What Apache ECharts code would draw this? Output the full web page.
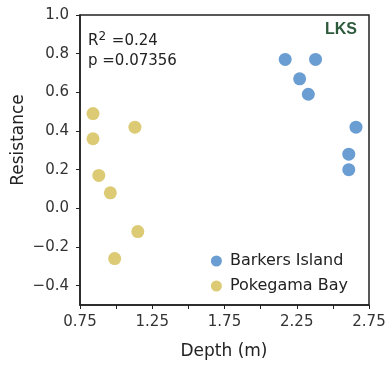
<!DOCTYPE html>
<html>
<head>
<meta charset="utf-8">
<script src="https://cdn.jsdelivr.net/npm/echarts@6/dist/echarts.min.js"></script>
<style>
  html, body { margin: 0; padding: 0; background: #fff; }
  #chart { width: 391px; height: 369px; }
</style>
</head>
<body>
<div id="chart"></div>
<script>
// data
const seriesNames = ['Barkers Island', 'Pokegama Bay'];
const barkersDepth = [2.17, 2.38, 2.27, 2.33, 2.66, 2.61, 2.61];
const barkersResistance = [0.77, 0.77, 0.67, 0.59, 0.42, 0.28, 0.20];
const pokegamaDepth = [0.84, 0.84, 1.13, 0.88, 0.96, 1.15, 0.99];
const pokegamaResistance = [0.49, 0.36, 0.42, 0.17, 0.08, -0.12, -0.26];
const yTicks = [-0.4, -0.2, 0.0, 0.2, 0.4, 0.6, 0.8, 1.0];
const xLabels = [0.75, 1.25, 1.75, 2.25, 2.75];
const statsText = ['R{sup|2} =0.24', 'p =0.07356'];

const blue = '#6a9dd2';
const yellow = '#dccb74';
const fontFamily = 'DejaVu Sans, sans-serif';

function zip(xs, ys) {
  return xs.map((x, i) => [x, ys[i]]);
}

const chart = echarts.init(document.getElementById('chart'));

const option = {
  animation: false,
  textStyle: { fontFamily: fontFamily },
  grid: {
    left: 80, right: 22, top: 15, bottom: 64,
    show: true, borderColor: '#222', borderWidth: 1.5, backgroundColor: 'transparent'
  },
  xAxis: {
    type: 'value',
    min: 0.75,
    max: 2.75,
    interval: 0.25,
    axisLine: { show: true, onZero: false, lineStyle: { color: '#222', width: 1.5 } },
    axisTick: { show: true, inside: false, length: 4, lineStyle: { color: '#222' } },
    splitLine: { show: false },
    axisLabel: {
      fontSize: 15, color: '#333', margin: 10,
      formatter: v => xLabels.some(l => Math.abs(l - v) < 1e-6) ? v.toFixed(2) : ''
    }
  },
  yAxis: {
    type: 'value',
    min: -0.5,
    max: 1.0,
    axisLine: { show: true, onZero: false, lineStyle: { color: '#222', width: 1.5 } },
    axisTick: { show: true, length: 4, customValues: yTicks, lineStyle: { color: '#222' } },
    splitLine: { show: false },
    axisLabel: {
      fontSize: 15, color: '#333', margin: 11,
      customValues: yTicks,
      formatter: v => (v < 0 ? '\u2212' : '') + Math.abs(v).toFixed(1)
    }
  },
  legend: {
    data: seriesNames,
    orient: 'vertical',
    right: 38,
    bottom: 70,
    itemWidth: 11,
    itemHeight: 11,
    itemGap: 9,
    icon: 'circle',
    textStyle: { fontSize: 16, color: '#222', fontFamily: fontFamily, padding: [0, 0, 0, 3] }
  },
  graphic: [
    {
      type: 'text', x: 224, y: 352,
      style: { text: 'Depth (m)', fontSize: 17, fill: '#222', fontFamily: fontFamily, align: 'center', verticalAlign: 'middle' }
    },
    {
      type: 'text', x: 19, y: 140, rotation: Math.PI / 2,
      style: { text: 'Resistance', fontSize: 17, fill: '#222', fontFamily: fontFamily, align: 'center', verticalAlign: 'middle' }
    },
    {
      type: 'text', left: 88, top: 31,
      style: {
        text: statsText[0], fontSize: 15, fill: '#222', fontFamily: fontFamily,
        rich: { sup: { fontSize: 12, verticalAlign: 'top', padding: [0, 1, 8, 0], fill: '#222', fontFamily: fontFamily } }
      }
    },
    {
      type: 'text', left: 88, top: 54,
      style: { text: statsText[1], fontSize: 15, fill: '#222', fontFamily: fontFamily }
    },
    {
      type: 'text', right: 34, top: 22,
      style: { text: 'LKS', fontSize: 16, fontWeight: 'bold', fill: '#2d5a3c', fontFamily: 'Liberation Sans, Arial, sans-serif' }
    }
  ],
  series: [
    {
      name: seriesNames[0],
      type: 'scatter',
      symbolSize: 13,
      itemStyle: { color: blue, opacity: 1 },
      data: zip(barkersDepth, barkersResistance)
    },
    {
      name: seriesNames[1],
      type: 'scatter',
      symbolSize: 13,
      itemStyle: { color: yellow, opacity: 1 },
      data: zip(pokegamaDepth, pokegamaResistance)
    }
  ]
};

chart.setOption(option);
</script>
</body>
</html>
